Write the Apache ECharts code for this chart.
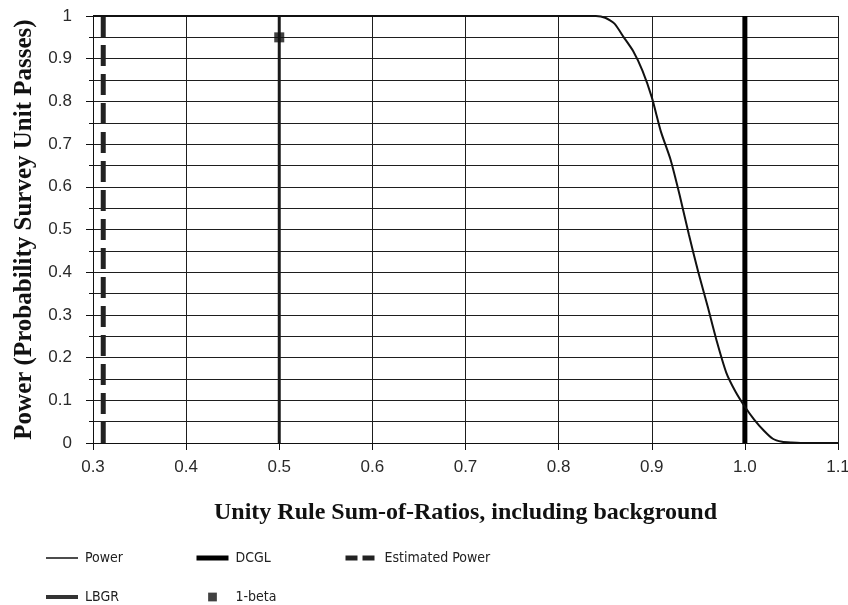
<!DOCTYPE html>
<html>
<head>
<meta charset="utf-8">
<script src="https://cdn.jsdelivr.net/npm/echarts@6/dist/echarts.min.js"></script>
<style>
  html, body { margin: 0; padding: 0; background: #fff; }
  #chart { width: 848px; height: 605px; }
</style>
</head>
<body>
<div id="chart"></div>
<script>
// Power curve: probability the survey unit passes vs. unity-rule sum of ratios
const ratioValues = [0.30, 0.40, 0.50, 0.60, 0.70, 0.80, 0.84, 0.85, 0.86, 0.87, 0.88, 0.89,
                     0.90, 0.91, 0.92, 0.93, 0.94, 0.95, 0.96, 0.97, 0.98, 0.99,
                     1.00, 1.01, 1.02, 1.03, 1.04, 1.05, 1.06, 1.08, 1.10];
const powerValues = [1, 1, 1, 1, 1, 1, 1, 0.996, 0.982, 0.950, 0.918, 0.872,
                     0.810, 0.728, 0.665, 0.580, 0.487, 0.400, 0.320, 0.237, 0.165, 0.120,
                     0.085, 0.055, 0.030, 0.010, 0.003, 0.001, 0, 0, 0];

// Reference lines (x positions on the sum-of-ratios axis)
const dcglX = 1.0;          // derived concentration guideline level
const lbgrX = 0.5;          // lower bound of the gray region
const estimatedX = 0.311;   // estimated sum of ratios
const oneBeta = [0.5, 0.95];

const xTicks = { min: 0.3, max: 1.1, step: 0.1 };
const yTicks = { min: 0, max: 1, step: 0.1 };

const vline = x => [[x, 0], [x, 1]];
const powerData = ratioValues.map((r, i) => [r, powerValues[i]]);

const chart = echarts.init(document.getElementById('chart'), null, { renderer: 'canvas' });

const tickFont = { fontFamily: 'Liberation Sans, Arial, sans-serif', fontSize: 17, color: '#2a2a2a' };
const titleFont = { fontFamily: 'Liberation Serif, Times New Roman, serif', fontWeight: 'bold', color: '#111' };
const legendText = { fontFamily: 'DejaVu Sans Condensed, Liberation Sans Narrow, sans-serif', fontSize: 14, color: '#222', padding: [0, 0, 0, 2] };

// legend entries show only the line sample, no point marker
const noMarker = { opacity: 0 };
// small square padded with empty extent so it draws smaller than the item box
const squareIcon = 'path://M5,-3L5,-3M5,13L5,13M0,0H10V10H0Z';

const legendBase = {
  orient: 'vertical',
  padding: 0,
  height: 80,
  itemWidth: 32,
  itemHeight: 14,
  itemGap: 25,
  textStyle: legendText,
  selectedMode: false
};

chart.setOption({
  animation: false,
  backgroundColor: '#fff',
  grid: { left: 93, right: 10, top: 16, bottom: 162, containLabel: false, outerBoundsMode: 'none' },
  legend: [
    Object.assign({}, legendBase, {
      left: 44, top: 551,
      data: [
        { name: 'Power', itemStyle: noMarker, lineStyle: { width: 1.5 } },
        { name: 'LBGR', itemStyle: noMarker, lineStyle: { width: 4, color: '#333' } }
      ]
    }),
    Object.assign({}, legendBase, {
      left: 194, top: 551,
      data: [
        { name: 'DCGL', itemStyle: noMarker, lineStyle: { width: 5 } },
        { name: '1-beta', icon: squareIcon }
      ]
    }),
    Object.assign({}, legendBase, {
      left: 343, top: 551,
      data: [
        { name: 'Estimated Power', itemStyle: noMarker, lineStyle: { width: 5, type: [12, 5] } }
      ]
    })
  ],
  xAxis: {
    type: 'value',
    min: xTicks.min, max: xTicks.max, interval: xTicks.step,
    name: 'Unity Rule Sum-of-Ratios, including background',
    nameLocation: 'middle',
    nameGap: 58,
    nameTextStyle: Object.assign({ fontSize: 24 }, titleFont),
    axisLine: { show: true, lineStyle: { color: '#111', width: 1 } },
    axisTick: { show: true, inside: false, length: 7, lineStyle: { color: '#111' } },
    axisLabel: Object.assign({ margin: 16, formatter: v => v.toFixed(1) }, tickFont),
    splitLine: { show: true, lineStyle: { color: '#1e1e1e', width: 1 } }
  },
  yAxis: {
    type: 'value',
    min: yTicks.min, max: yTicks.max, interval: yTicks.step,
    name: 'Power (Probability Survey Unit Passes)',
    nameLocation: 'middle',
    nameGap: 56,
    nameRotate: 90,
    nameTextStyle: Object.assign({ fontSize: 25 }, titleFont),
    axisLine: { show: true, lineStyle: { color: '#111', width: 1 } },
    axisTick: { show: true, inside: false, length: 7, lineStyle: { color: '#111' } },
    minorTick: { show: true, splitNumber: 2, length: 4, lineStyle: { color: '#111' } },
    minorSplitLine: { show: true, lineStyle: { color: '#1e1e1e', width: 1 } },
    axisLabel: Object.assign({
      margin: 21,
      formatter: v => (v === 0 ? '0' : Math.abs(v - 1) < 1e-9 ? '1' : v.toFixed(1))
    }, tickFont),
    splitLine: { show: true, lineStyle: { color: '#1e1e1e', width: 1 } }
  },
  series: [
    {
      name: 'Power', type: 'line', data: powerData,
      symbol: 'none', smooth: 0.2,
      lineStyle: { color: '#111', width: 2 }, itemStyle: { color: '#111' }, z: 5
    },
    {
      name: 'DCGL', type: 'line', data: vline(dcglX),
      symbol: 'none',
      lineStyle: { color: '#000', width: 5 }, itemStyle: { color: '#000' }, z: 4
    },
    {
      name: 'Estimated Power', type: 'line', data: vline(estimatedX),
      symbol: 'none',
      lineStyle: { color: '#222', width: 5, type: [21, 8] }, itemStyle: { color: '#222' }, z: 4
    },
    {
      name: 'LBGR', type: 'line', data: vline(lbgrX),
      symbol: 'none',
      lineStyle: { color: '#1a1a1a', width: 3 }, itemStyle: { color: '#1a1a1a' }, z: 4
    },
    {
      name: '1-beta', type: 'scatter', data: [oneBeta],
      symbol: 'rect', symbolSize: 10,
      itemStyle: { color: '#111' }, z: 6
    }
  ]
});
</script>
</body>
</html>
